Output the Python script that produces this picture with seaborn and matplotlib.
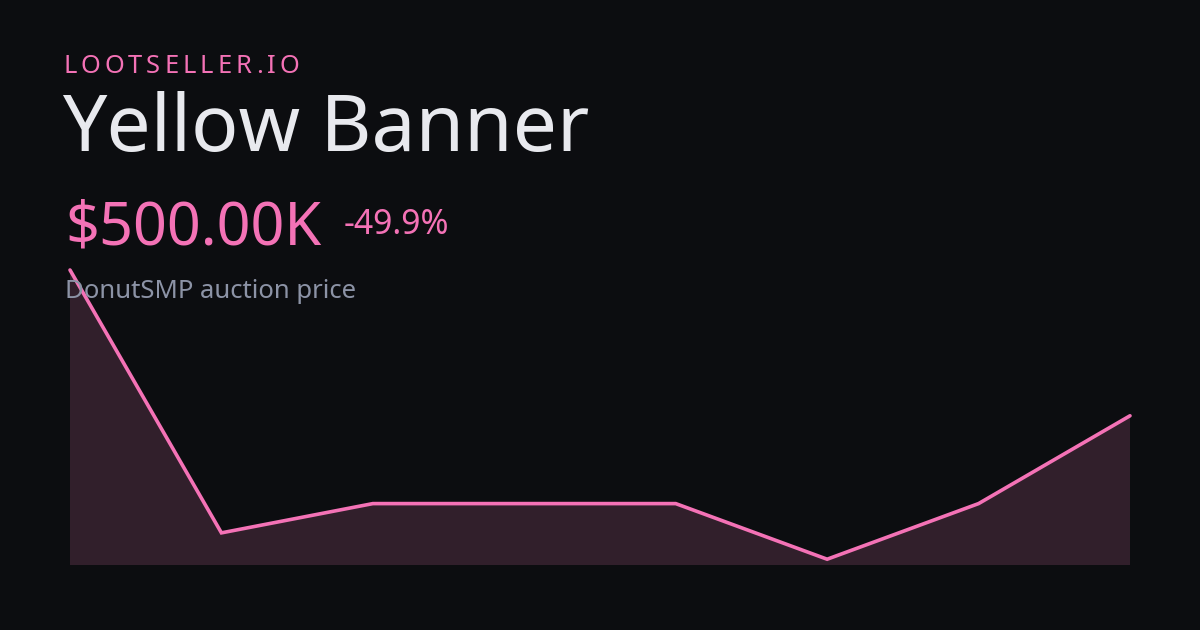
import matplotlib
matplotlib.use("Agg")
import matplotlib.pyplot as plt
import seaborn as sns
import pandas as pd

# ---- data ----
brand = "LOOTSELLER.IO"
title = "Yellow Banner"
price_label = "$500.00K"
change_label = "-49.9%"
subtitle = "DonutSMP auction price"
points = [0, 1, 2, 3, 4, 5, 6, 7]
prices_k = [998, 100, 200, 200, 200, 10, 200, 500]

# ---- style ----
BG = "#0c0d10"
PINK = "#f472b6"
FILL = "#311f2b"
WHITE = "#e8e9ee"
GRAY = "#8c93a6"

sns.set_theme(style="white")
plt.rcParams["font.family"] = ["Noto Sans", "DejaVu Sans"]

W, H = 1200, 630
fig = plt.figure(figsize=(W / 100, H / 100), dpi=100, facecolor=BG)

def fx(px):
    return px / W

def fy(py):
    return 1 - py / H

ax = fig.add_axes([fx(70), fy(565), fx(1130) - fx(70), fy(270) - fy(565)])
ax.set_facecolor(BG)

df = pd.DataFrame({"t": points, "price": prices_k})
ax.fill_between(df["t"], df["price"], -1e9, color=FILL, linewidth=0, zorder=1)
sns.lineplot(data=df, x="t", y="price", ax=ax, color=PINK, linewidth=2.6,
             zorder=3, clip_on=False, solid_joinstyle="miter")

lo = min(prices_k) - 0.02 * (max(prices_k) - min(prices_k))
ax.set_ylim(lo, max(prices_k))
ax.set_xlim(min(points), max(points))
ax.axis("off")

# ---- texts ----
# letter-spaced brand
renderer = fig.canvas.get_renderer()
size_brand = 18.4
widths = []
tmp = []
for ch in brand:
    t = fig.text(0, 0, ch, fontsize=size_brand, color=PINK)
    bb = t.get_window_extent(renderer=renderer)
    widths.append(bb.width)
    tmp.append(t)
for t in tmp:
    t.remove()
target = 236
spacing = (target - sum(widths)) / (len(brand) - 1)
x = 63.0
for ch, w in zip(brand, widths):
    fig.text(fx(x), fy(73.3), ch, fontsize=size_brand, color=PINK,
             ha="left", va="baseline")
    x += w + spacing

fig.text(fx(62), fy(151), title, fontsize=56.5, color=WHITE,
         ha="left", va="baseline")
fig.text(fx(65), fy(245), price_label, fontsize=42.8, color=PINK,
         ha="left", va="baseline")
fig.text(fx(344), fy(234.5), change_label, fontsize=24.3, color=PINK,
         ha="left", va="baseline")
fig.text(fx(65), fy(297.5), subtitle, fontsize=18.5, color=GRAY,
         ha="left", va="baseline", zorder=5)

fig.savefig("out.png", dpi=100, facecolor=BG)
